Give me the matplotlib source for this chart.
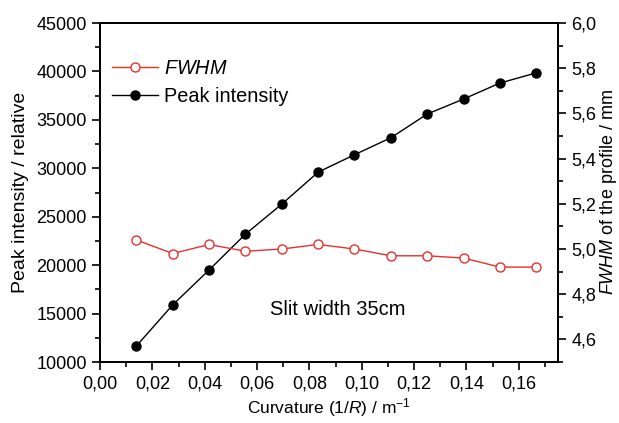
import matplotlib
matplotlib.use("Agg")
import matplotlib.pyplot as plt
from matplotlib.lines import Line2D
from matplotlib.ticker import MultipleLocator, FuncFormatter

plt.rcParams['font.family'] = ['Liberation Sans', 'DejaVu Sans']
plt.rcParams['mathtext.fontset'] = 'custom'
plt.rcParams['mathtext.rm'] = 'Liberation Sans'
plt.rcParams['mathtext.it'] = 'Liberation Sans:italic'

curvature = [k / 72 for k in range(1, 13)]
peak_intensity = [11650, 15900, 19500, 23200, 26300, 29600, 31400, 33150, 35600, 37150, 38800, 39850]
fwhm = [5.04, 4.98, 5.02, 4.99, 5.00, 5.02, 5.00, 4.97, 4.97, 4.96, 4.92, 4.92]

red = '#e8312b'
fig = plt.figure(figsize=(6.19, 4.23), dpi=100)
ax = fig.add_axes([0.1616, 0.1442, 0.7399, 0.8014])
ax2 = ax.twinx()

ax.plot(curvature, peak_intensity, color='black', lw=1.0, marker='o', ms=6.5,
        mfc='black', mec='black', zorder=3)
ax2.plot(curvature, fwhm, color=red, lw=1.0, marker='o', ms=6.5,
         mfc='white', mec=red, zorder=3)

ax.set_xlim(0, 0.175)
ax.set_ylim(10000, 45000)
ax2.set_ylim(4.5, 6.0)

comma = lambda fmt: FuncFormatter(lambda v, p: (fmt % v).replace('.', ','))
ax.xaxis.set_major_locator(MultipleLocator(0.02))
ax.xaxis.set_minor_locator(MultipleLocator(0.01))
ax.xaxis.set_major_formatter(comma('%.2f'))
ax.yaxis.set_major_locator(MultipleLocator(5000))
ax.yaxis.set_minor_locator(MultipleLocator(2500))
ax2.yaxis.set_major_locator(MultipleLocator(0.2))
ax2.yaxis.set_minor_locator(MultipleLocator(0.1))
ax2.yaxis.set_major_formatter(comma('%.1f'))

for a in (ax, ax2):
    a.tick_params(which='both', direction='out', labelsize=13, width=1.2)
    a.tick_params(which='major', length=6)
    a.tick_params(which='minor', length=3.5)
    for s in a.spines.values():
        s.set_linewidth(1.3)
ax.tick_params(top=False, right=False)

ax.set_xlabel(r'Curvature (1/$R$) / m$^{-1}$', fontsize=12.5, labelpad=3)
ax.set_ylabel('Peak intensity / relative', fontsize=14, labelpad=5)
ax2.set_ylabel(r'$FWHM$ of the profile / mm', fontsize=13, labelpad=1)

ax.text(0.0907, 15400, 'Slit width 35cm', fontsize=14.5, ha='center', va='center')

handles = [
    Line2D([], [], color=red, lw=1.0, marker='o', ms=6.5, mfc='white', mec=red),
    Line2D([], [], color='black', lw=1.0, marker='o', ms=6.5, mfc='black', mec='black'),
]
ax.legend(handles, [r'$FWHM$', 'Peak intensity'], loc='upper left',
          bbox_to_anchor=(0.0, 0.93), frameon=False, fontsize=14.3,
          handlelength=2.3, handletextpad=0.3, borderaxespad=0.2, labelspacing=0.45)

fig.savefig('out.png', dpi=100)
